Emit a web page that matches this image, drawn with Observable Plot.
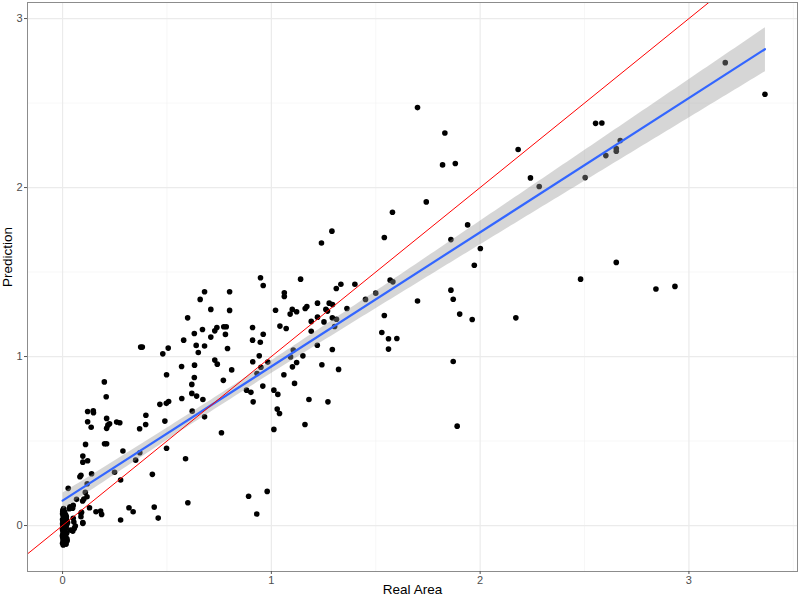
<!DOCTYPE html>
<html><head><meta charset="utf-8">
<script src="https://cdn.jsdelivr.net/npm/d3@7"></script>
<script src="https://cdn.jsdelivr.net/npm/@observablehq/plot@0.6"></script>
<style>body{margin:0;background:#fff;font-family:"Liberation Sans",Arial,sans-serif}</style>
</head><body><div id="chart"></div>
<script>
const realArea = [
3.174,3.364,2.182,2.553,2.583,2.671,2.652,2.652,2.602,2.241,2.283,2.503,2.652,2.481,2.842,2.933,
1.700,1.831,1.820,1.881,
1.742,1.580,1.541,1.940,1.860,2.001,1.972,1.569,1.582,1.500,1.451,1.700,1.860,1.871,1.902,1.962,2.171,1.541,1.529,1.561,1.601,1.561,1.871,1.890,
1.290,1.240,
0.948,0.961,1.140,0.680,0.800,0.659,1.062,1.062,1.333,1.311,1.400,0.710,0.800,0.599,1.020,1.100,1.121,1.090,1.162,1.170,1.221,1.277,1.293,1.261,1.269,1.362,1.221,1.252,1.292,1.312,1.303,1.191,1.191,1.041,1.071,0.910,0.961,0.910,0.947,0.631,0.670,0.729,0.739,0.772,0.784,0.780,0.710,0.580,0.640,0.680,0.650,0.790,0.942,0.911,0.983,0.950,0.729,0.741,0.810,0.632,0.570,0.631,0.619,0.770,0.931,1.105,1.092,1.121,1.101,1.151,1.060,1.111,1.220,1.242,1.292,1.322,0.959,0.881,0.902,0.913,1.012,1.031,1.180,1.271,1.028,1.039,1.161,1.012,0.619,0.642,0.672,0.621,0.680,0.761,0.571,
0.589,0.600,0.891,0.980,0.930,
0.374,0.382,0.506,0.480,0.498,0.200,0.209,
0.120,0.147,0.148,0.120,0.137,0.211,0.217,0.225,0.211,0.259,0.274,0.201,0.211,0.110,0.097,0.120,0.097,0.088,0.083,0.139,0.027,0.118,0.109,0.117,0.102,0.096,0.067,0.249,0.289,0.350,0.370,0.278,0.369,0.398,0.399,0.466,0.497,0.508,0.490,0.498,0.430,0.278,0.318,0.338,0.439,0.458,0.160,0.182,0.187,0.097,0.088,0.088,
0.051,0.035,0.048,0.032,0.091,0.129,0.097,0.051,0.054,0.061,0.056,0.049,0.038,0.019,
0.005,0.010,0.000,0.015,0.005,0.010,0.000,0.020,0.005,0.012,0.000,0.008,0.015,0.003,0.010,0.000,0.006,0.012,0.002,0.008,0.000,0.005,0.002,0.005,0.000,0.003,
0.002,0.008,0.014,0.004,0.011,0.018,0.001,0.006,0.013,0.020,0.003,0.009,0.016,0.000,0.007,0.012,0.019,0.005,0.010,0.015,0.002,0.008,0.022,0.004,0.011,0.017,0.001,0.006,0.013,0.024,0.003,0.009,0.014,0.000,0.007,0.012,0.018,0.005,0.010,0.016,0.002,0.008,0.021,0.004,0.011,0.006
];
const prediction = [
2.739,2.552,2.225,2.380,2.382,2.278,2.231,2.215,2.189,2.057,2.006,2.059,1.557,1.458,1.400,1.415,
2.473,2.323,2.134,2.142,
1.915,1.854,1.704,1.779,1.692,1.639,1.540,1.452,1.442,1.375,1.338,1.329,1.393,1.339,1.251,1.219,1.229,1.243,1.142,1.105,1.107,1.044,0.971,0.588,
1.742,1.672,
1.466,1.420,1.458,1.383,1.383,1.338,1.377,1.355,1.428,1.403,1.428,1.279,1.273,1.229,1.274,1.279,1.265,1.251,1.284,1.296,1.316,1.316,1.308,1.279,1.269,1.284,1.233,1.205,1.229,1.221,1.178,1.208,1.150,1.180,1.166,1.172,1.132,1.097,1.085,1.136,1.160,1.152,1.172,1.176,1.176,1.131,1.115,1.097,1.066,1.062,1.024,1.048,1.004,0.969,0.967,0.937,0.979,0.955,0.921,0.949,0.941,0.876,0.835,0.859,0.900,1.038,0.998,0.965,0.939,1.004,0.892,0.841,1.067,0.951,1.042,0.924,0.825,0.801,0.788,0.732,0.801,0.776,0.746,0.732,0.689,0.663,0.598,0.569,0.782,0.766,0.746,0.677,0.643,0.549,0.752,
0.395,0.135,0.173,0.202,0.068,
1.056,1.056,1.050,1.016,0.892,0.850,0.762,
0.675,0.679,0.667,0.614,0.582,0.634,0.594,0.602,0.575,0.612,0.608,0.484,0.484,0.480,0.411,0.383,0.375,0.297,0.289,0.306,0.220,0.247,0.196,0.170,0.157,0.145,0.155,0.315,0.441,0.387,0.431,0.269,0.573,0.598,0.653,0.717,0.723,0.734,0.618,0.457,0.303,0.033,0.105,0.082,0.109,0.044,0.082,0.086,0.066,0.013,0.072,0.052,
0.119,0.111,0.102,0.099,0.078,0.105,0.017,0.043,0.021,-0.003,-0.017,-0.033,-0.027,-0.046,
0.100,0.080,0.070,0.060,0.050,0.040,0.035,0.030,0.020,0.015,0.010,0.000,-0.005,-0.010,-0.020,-0.025,-0.035,-0.040,-0.050,-0.055,-0.065,-0.075,-0.085,-0.095,-0.105,-0.115,
0.092,0.075,0.064,0.055,0.047,0.038,0.028,0.022,0.012,0.006,-0.002,-0.008,-0.014,-0.018,-0.030,-0.038,-0.044,-0.048,-0.060,-0.068,-0.072,-0.080,-0.090,-0.098,-0.102,-0.110,0.085,0.068,0.042,0.018,0.002,-0.022,-0.045,-0.058,-0.083,-0.092,0.052,0.030,0.008,-0.012,-0.035,-0.062,-0.078,0.060,0.025,-0.050
];
const xTicks = [0, 1, 2, 3];
const yTicks = [0, 1, 2, 3];
const xMinor = [0.5, 1.5, 2.5, 3.5];
const yMinor = [0.5, 1.5, 2.5];
const identityLine = [-1, 4];
const xTitle = "Real Area";
const yTitle = "Prediction";

const data = realArea.map((x, i) => ({x, y: prediction[i]}));

const chart = Plot.plot({
  width: 800, height: 600,
  marginLeft: 27, marginRight: 3, marginTop: 2, marginBottom: 29,
  style: {fontFamily: "'Liberation Sans', Arial, sans-serif", fontSize: "11px", color: "#4d4d4d", background: "#fff"},
  x: {domain: [-0.168, 3.52], label: null},
  y: {domain: [-0.272, 3.095], label: null},
  marks: [
    Plot.gridX(xMinor, {stroke: "#f2f2f2", strokeOpacity: 1, strokeWidth: 0.6}),
    Plot.gridY(yMinor, {stroke: "#f2f2f2", strokeOpacity: 1, strokeWidth: 0.6}),
    Plot.gridX(xTicks, {stroke: "#ebebeb", strokeOpacity: 1, strokeWidth: 1.2}),
    Plot.gridY(yTicks, {stroke: "#ebebeb", strokeOpacity: 1, strokeWidth: 1.2}),
    Plot.dot(data, {x: "x", y: "y", r: 2.8, fill: "black", stroke: "none"}),
    Plot.linearRegressionY(data, {x: "x", y: "y", stroke: "#3366FF", strokeWidth: 2.2, fill: "#999999", fillOpacity: 0.4, ci: 0.95}),
    Plot.line(identityLine, {x: d => d, y: d => d, stroke: "#ff0000", strokeWidth: 1, clip: true}),
    Plot.frame({stroke: "#8c8c8c", strokeWidth: 1}),
    Plot.axisX(xTicks, {tickSize: 3, tickPadding: 2, stroke: "#555", fill: "#4d4d4d", fontSize: 11, label: null, tickFormat: d => String(d)}),
    Plot.axisY(yTicks, {tickSize: 3, tickPadding: 2, stroke: "#555", fill: "#4d4d4d", fontSize: 11, label: null, tickFormat: d => String(d)}),
    Plot.text([xTitle], {text: d => d, frameAnchor: "bottom", dy: 22, fontSize: 13.5, fill: "#000"}),
    Plot.text([yTitle], {text: d => d, frameAnchor: "left", dx: -20, rotate: -90, fontSize: 13.5, fill: "#000"})
  ]
});
document.getElementById("chart").appendChild(chart);
</script>
</body></html>
